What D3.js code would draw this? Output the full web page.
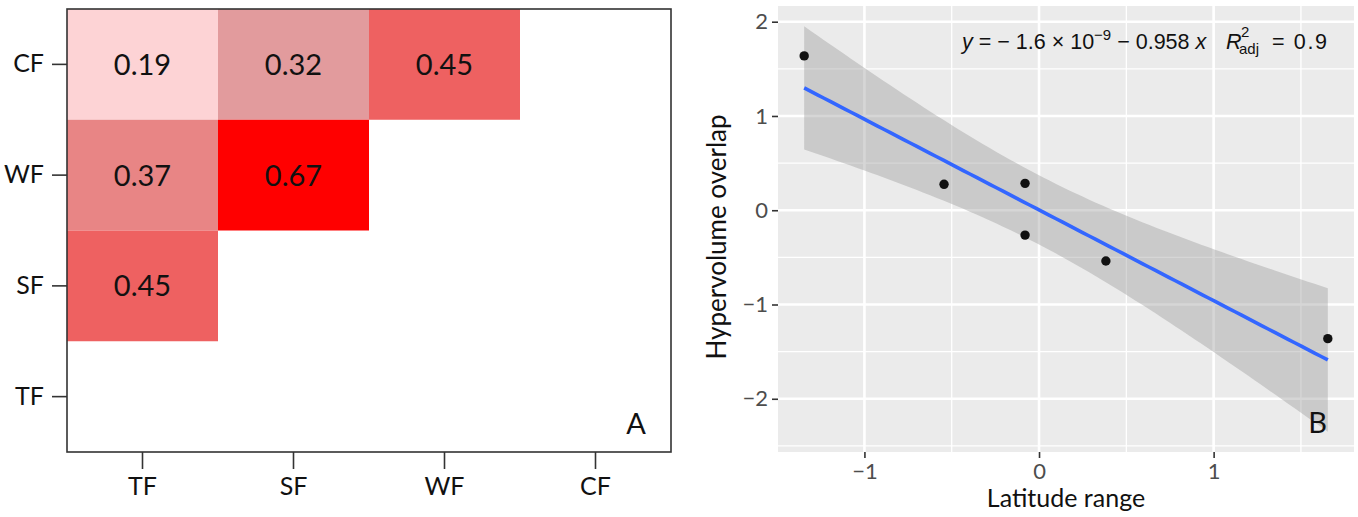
<!DOCTYPE html>
<html>
<head>
<meta charset="utf-8">
<script src="https://cdn.jsdelivr.net/npm/d3@7/dist/d3.min.js"></script>
<style>
  html, body { margin: 0; padding: 0; background: #fff; }
  svg { display: block; }
</style>
</head>
<body>
<script>
// ---------- DATA ----------
// Panel A: pairwise overlap between forest types
const forests = ["TF", "SF", "WF", "CF"];          // x-axis order
const rowOrder = ["CF", "WF", "SF", "TF"];         // y-axis order (top to bottom)
const cellColumn = ["TF", "SF", "WF", "TF", "SF", "TF"];
const cellRow    = ["CF", "CF", "CF", "WF", "WF", "SF"];
const overlapValues = [0.19, 0.32, 0.45, 0.37, 0.67, 0.45];
// colour ramp stops (value -> colour)
const colorStops  = [0.19, 0.32, 0.37, 0.45, 0.67];
const colorRange  = ["#fdd3d5", "#e29b9d", "#e88585", "#ee6161", "#ff0000"];

// Panel B: standardized latitude range vs hypervolume overlap
const latitudeRange      = [-1.345, -0.544, -0.080, -0.080, 0.383, 1.654];
const hypervolumeOverlap = [ 1.637,  0.275,  0.285, -0.264, -0.539, -1.362];
const xTicksB = [-1, 0, 1];
const yTicksB = [-2, -1, 0, 1, 2];
const tCrit = 2.776445; // t(0.975, df = n - 2 = 4)

// ---------- SVG ----------
const W = 1358, H = 517;
const svg = d3.select("body").append("svg").attr("width", W).attr("height", H);

// ================= PANEL A =================
const ax = d3.scaleBand().domain(forests).range([67, 671]).padding(0);
const ay = d3.scaleBand().domain(rowOrder).range([9, 452]).padding(0);
const color = d3.scaleLinear().domain(colorStops).range(colorRange);

const cells = overlapValues.map((v, i) => ({ col: cellColumn[i], row: cellRow[i], v }));
const gA = svg.append("g");
gA.selectAll("rect.cell").data(cells).enter().append("rect")
  .attr("class", "cell")
  .attr("x", d => ax(d.col)).attr("y", d => ay(d.row))
  .attr("width", ax.bandwidth()).attr("height", ay.bandwidth())
  .attr("fill", d => color(d.v));
gA.selectAll("text.val").data(cells).enter().append("text")
  .attr("class", "val")
  .attr("x", d => ax(d.col) + ax.bandwidth() / 2)
  .attr("y", d => ay(d.row) + ay.bandwidth() / 2)
  .attr("dy", "0.36em")
  .attr("text-anchor", "middle")
  .style("font-family", "Lato, 'Open Sans', sans-serif")
  .style("font-size", "29px")
  .attr("fill", "#111")
  .text(d => d.v.toFixed(2));

gA.append("rect").attr("x", 67).attr("y", 9).attr("width", 604).attr("height", 443)
  .attr("fill", "none").attr("stroke", "#333").attr("stroke-width", 1.6);

const yAxA = gA.append("g").attr("transform", "translate(67,0)")
  .call(d3.axisLeft(ay).tickSize(15).tickPadding(8).tickSizeOuter(0));
const xAxA = gA.append("g").attr("transform", "translate(0,452)")
  .call(d3.axisBottom(ax).tickSize(17).tickPadding(8).tickSizeOuter(0));
[yAxA, xAxA].forEach(g => {
  g.select(".domain").remove();
  g.selectAll(".tick line").attr("stroke", "#333").attr("stroke-width", 1.6);
  g.selectAll(".tick text").attr("fill", "#111")
    .style("font-family", "Lato, 'Open Sans', sans-serif").style("font-size", "25px");
});

gA.append("text").attr("x", 646).attr("y", 434).attr("text-anchor", "end")
  .style("font-family", "Lato, 'Open Sans', sans-serif").style("font-size", "29px")
  .attr("fill", "#111").text("A");

// ================= PANEL B =================
const n = latitudeRange.length;
const xbar = d3.mean(latitudeRange), ybar = d3.mean(hypervolumeOverlap);
let Sxx = 0, Sxy = 0;
for (let i = 0; i < n; i++) {
  Sxx += (latitudeRange[i] - xbar) ** 2;
  Sxy += (latitudeRange[i] - xbar) * (hypervolumeOverlap[i] - ybar);
}
const slope = Sxy / Sxx, intercept = ybar - slope * xbar;
let SSE = 0;
for (let i = 0; i < n; i++) SSE += (hypervolumeOverlap[i] - (intercept + slope * latitudeRange[i])) ** 2;
const sres = Math.sqrt(SSE / (n - 2));
const [xmin, xmax] = d3.extent(latitudeRange);
const fit = d3.range(80).map(i => {
  const x = xmin + i * (xmax - xmin) / 79;
  const yh = intercept + slope * x;
  const se = sres * Math.sqrt(1 / n + (x - xbar) ** 2 / Sxx);
  return { x, y: yh, lo: yh - tCrit * se, hi: yh + tCrit * se };
});

const xr = xmax - xmin;
const ylo = Math.min(d3.min(fit, d => d.lo), d3.min(hypervolumeOverlap));
const yhi = Math.max(d3.max(fit, d => d.hi), d3.max(hypervolumeOverlap));
const yr = yhi - ylo;
const bx = d3.scaleLinear().domain([xmin - 0.05 * xr, xmax + 0.05 * xr]).range([778, 1354]);
const by = d3.scaleLinear().domain([ylo - 0.05 * yr, yhi + 0.05 * yr]).range([452, 6]);

const gB = svg.append("g");
gB.append("rect").attr("x", 778).attr("y", 6).attr("width", 1354 - 778).attr("height", 452 - 6)
  .attr("fill", "#ebebeb");

const xd = bx.domain(), yd = by.domain();
const xMinor = [-1.5, -0.5, 0.5, 1.5].filter(v => v >= xd[0] && v <= xd[1]);
const yMinor = [-2.5, -1.5, -0.5, 0.5, 1.5].filter(v => v >= yd[0] && v <= yd[1]);
gB.selectAll("line.xminor").data(xMinor).enter().append("line")
  .attr("x1", d => bx(d)).attr("x2", d => bx(d)).attr("y1", 6).attr("y2", 452)
  .attr("stroke", "#fff").attr("stroke-width", 1.3);
gB.selectAll("line.yminor").data(yMinor).enter().append("line")
  .attr("y1", d => by(d)).attr("y2", d => by(d)).attr("x1", 778).attr("x2", 1354)
  .attr("stroke", "#fff").attr("stroke-width", 1.3);
gB.selectAll("line.xmajor").data(xTicksB).enter().append("line")
  .attr("x1", d => bx(d)).attr("x2", d => bx(d)).attr("y1", 6).attr("y2", 452)
  .attr("stroke", "#fff").attr("stroke-width", 2.6);
gB.selectAll("line.ymajor").data(yTicksB).enter().append("line")
  .attr("y1", d => by(d)).attr("y2", d => by(d)).attr("x1", 778).attr("x2", 1354)
  .attr("stroke", "#fff").attr("stroke-width", 2.6);

gB.append("path").datum(fit)
  .attr("d", d3.area().x(d => bx(d.x)).y0(d => by(d.lo)).y1(d => by(d.hi)))
  .attr("fill", "#999999").attr("fill-opacity", 0.4);
gB.append("path").datum(fit)
  .attr("d", d3.line().x(d => bx(d.x)).y(d => by(d.y)))
  .attr("fill", "none").attr("stroke", "#3366ff").attr("stroke-width", 3.6);
gB.selectAll("circle").data(latitudeRange.map((x, i) => ({ x, y: hypervolumeOverlap[i] })))
  .enter().append("circle")
  .attr("cx", d => bx(d.x)).attr("cy", d => by(d.y)).attr("r", 4.7).attr("fill", "#111");

// Equation label
const eqFont = "'Liberation Sans', Arial, sans-serif";
const eq = gB.append("text").attr("x", 962).attr("y", 49)
  .style("font-family", eqFont).style("font-size", "21.5px").attr("fill", "#111");
eq.append("tspan").style("font-style", "italic").text("y");
eq.append("tspan").text(" = \u2212 1.6 \u00d7 10");
eq.append("tspan").attr("dy", -9).style("font-size", "15px").text("\u22129");
eq.append("tspan").attr("dy", 9).text(" \u2212 0.958 ");
eq.append("tspan").style("font-style", "italic").text("x");
gB.append("text").attr("x", 1226).attr("y", 49).style("font-family", eqFont)
  .style("font-size", "21.5px").style("font-style", "italic").attr("fill", "#111").text("R");
gB.append("text").attr("x", 1241).attr("y", 37).style("font-family", eqFont)
  .style("font-size", "15px").attr("fill", "#111").text("2");
gB.append("text").attr("x", 1239).attr("y", 54).style("font-family", eqFont)
  .style("font-size", "15px").attr("fill", "#111").text("adj");
gB.append("text").attr("x", 1272).attr("y", 49).style("font-family", eqFont)
  .style("font-size", "21.5px").attr("fill", "#111")
  .attr("textLength", 55).attr("lengthAdjust", "spacing").text("= 0.9");

gB.append("text").attr("x", 1327).attr("y", 433).attr("text-anchor", "end")
  .style("font-family", "Lato, 'Open Sans', sans-serif").style("font-size", "29px")
  .attr("fill", "#111").text("B");

// Axes
const fmt = d => d < 0 ? "\u2212" + Math.abs(d) : String(d);
const xAxB = gB.append("g").attr("transform", "translate(0,452)")
  .call(d3.axisBottom(bx).tickValues(xTicksB).tickFormat(fmt).tickSize(6).tickPadding(5).tickSizeOuter(0));
const yAxB = gB.append("g").attr("transform", "translate(778,0)")
  .call(d3.axisLeft(by).tickValues(yTicksB).tickFormat(fmt).tickSize(6).tickPadding(4).tickSizeOuter(0));
[xAxB, yAxB].forEach(g => {
  g.select(".domain").remove();
  g.selectAll(".tick line").attr("stroke", "#333").attr("stroke-width", 1.6);
  g.selectAll(".tick text").attr("fill", "#4d4d4d")
    .style("font-family", "Lato, 'Open Sans', sans-serif").style("font-size", "22px");
});

gB.append("text").attr("x", 1066).attr("y", 507).attr("text-anchor", "middle")
  .style("font-family", "Lato, 'Open Sans', sans-serif").style("font-size", "25px")
  .attr("fill", "#111").text("Latitude range");
gB.append("text").attr("transform", "translate(726,237) rotate(-90)").attr("text-anchor", "middle")
  .style("font-family", "Lato, 'Open Sans', sans-serif").style("font-size", "26px")
  .attr("fill", "#111").text("Hypervolume overlap");
</script>
</body>
</html>
